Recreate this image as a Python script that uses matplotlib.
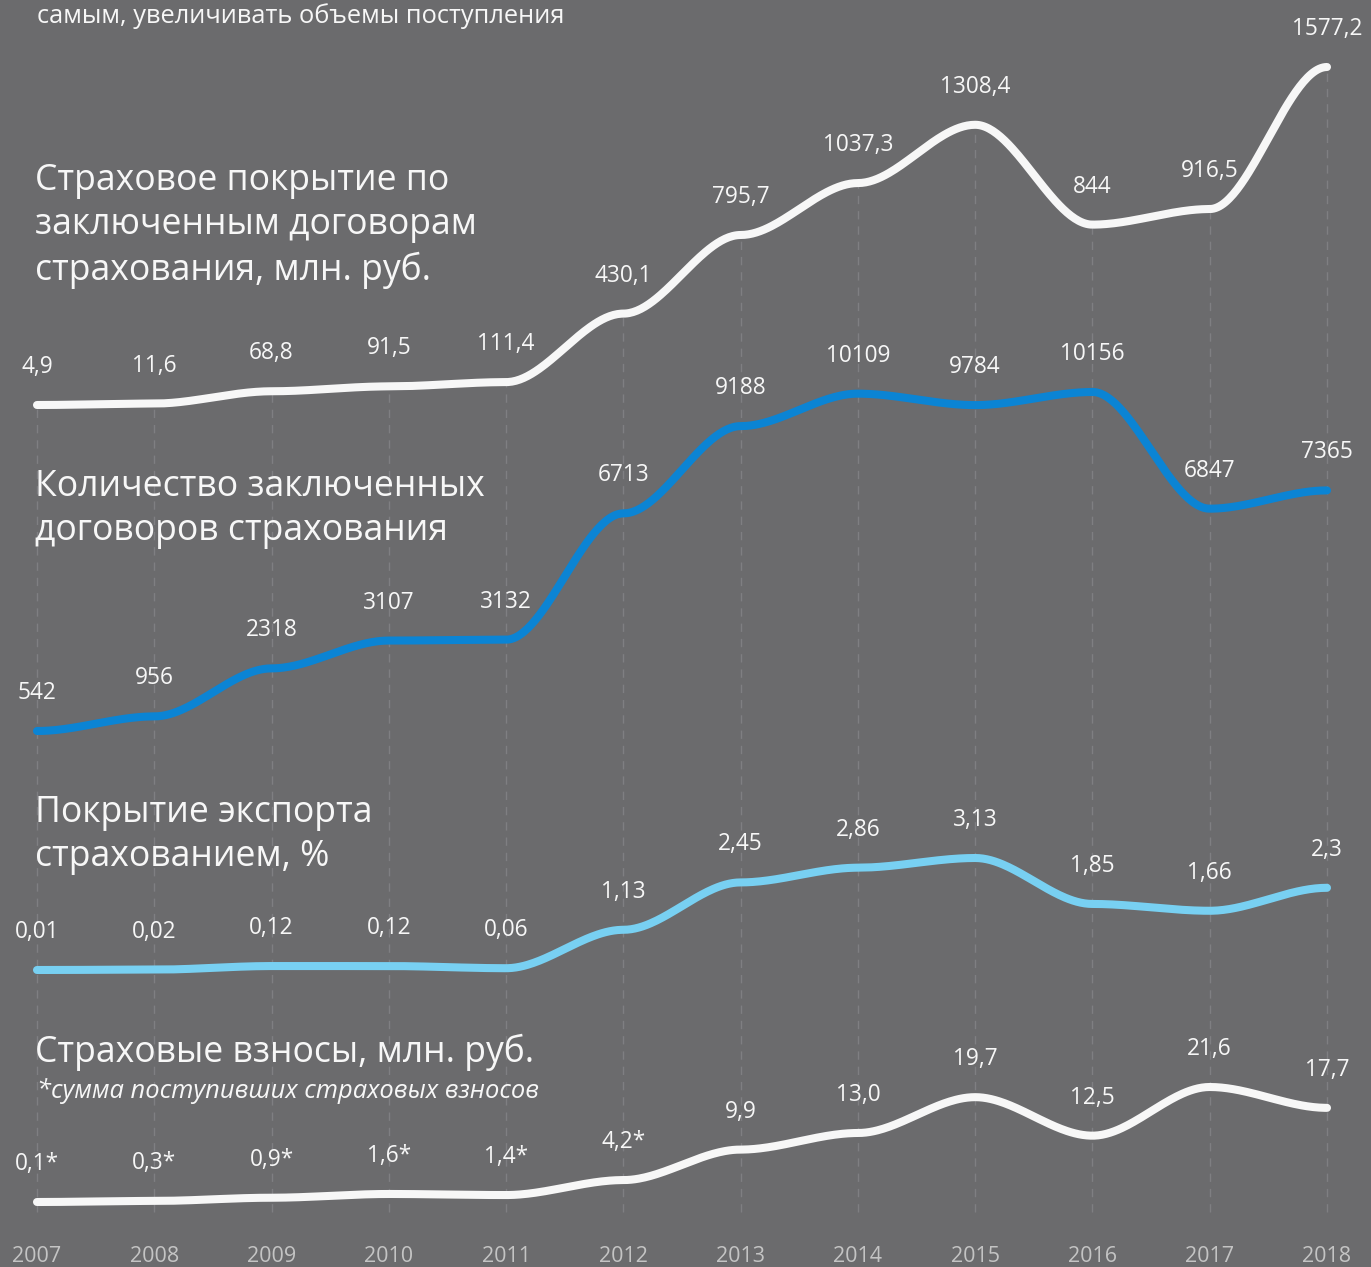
import matplotlib
matplotlib.use("Agg")
import matplotlib.pyplot as plt
import numpy as np

plt.rcParams["font.family"] = ["Open Sans", "DejaVu Sans"]

W, H = 1371, 1267
BG = "#6b6b6d"
GRID = "#7f7f82"
WHITE = "#f7f7f7"
BLUE = "#0b84d4"
LIGHT_BLUE = "#78d0f2"

years = np.arange(2007, 2019)

coverage = [4.9, 11.6, 68.8, 91.5, 111.4, 430.1, 795.7, 1037.3, 1308.4, 844, 916.5, 1577.2]
coverage_labels = ["4,9", "11,6", "68,8", "91,5", "111,4", "430,1", "795,7",
                   "1037,3", "1308,4", "844", "916,5", "1577,2"]

contracts = [542, 956, 2318, 3107, 3132, 6713, 9188, 10109, 9784, 10156, 6847, 7365]
contracts_labels = [str(v) for v in contracts]

export_share = [0.01, 0.02, 0.12, 0.12, 0.06, 1.13, 2.45, 2.86, 3.13, 1.85, 1.66, 2.3]
export_labels = ["0,01", "0,02", "0,12", "0,12", "0,06", "1,13", "2,45",
                 "2,86", "3,13", "1,85", "1,66", "2,3"]

premiums = [0.1, 0.3, 0.9, 1.6, 1.4, 4.2, 9.9, 13.0, 19.7, 12.5, 21.6, 17.7]
premiums_labels = ["0,1*", "0,3*", "0,9*", "1,6*", "1,4*", "4,2*", "9,9",
                   "13,0", "19,7", "12,5", "21,6", "17,7"]

# x mapping: 2007 sits at px 37, 2018 at px 1327
px_per_year = (1327 - 37) / 11
xlim = (2007 - 37 / px_per_year, 2018 + (W - 1327) / px_per_year)


def ylim_from(va, pa, vb, pb):
    """y-limits so value va lands at pixel row pa and vb at pb (rows from top)."""
    s = (vb - va) / (pa - pb)
    return va - s * (H - pa), va + s * pa


def smooth(x, y, n=60):
    xs, ys = [], []
    for i in range(len(x) - 1):
        t = np.linspace(0, 1, n, endpoint=False)
        e = t * t * (3 - 2 * t)
        xs.append(x[i] + (x[i + 1] - x[i]) * t)
        ys.append(y[i] + (y[i + 1] - y[i]) * e)
    xs.append([x[-1]])
    ys.append([y[-1]])
    return np.concatenate(xs), np.concatenate(ys)


fig = plt.figure(figsize=(W / 100, H / 100), dpi=100, facecolor=BG)

series = [
    (coverage, coverage_labels, WHITE, (4.9, 405, 1577.2, 67)),
    (contracts, contracts_labels, BLUE, (542, 731, 10156, 392)),
    (export_share, export_labels, LIGHT_BLUE, (0.01, 970, 3.13, 858)),
    (premiums, premiums_labels, WHITE, (0.1, 1202, 21.6, 1087)),
]

axes = []
for k, (vals, labels, color, anchor) in enumerate(series):
    ax = fig.add_axes([0, 0, 1, 1])
    ax.patch.set_alpha(0)
    ax.set_xlim(*xlim)
    lo, hi = ylim_from(*anchor)
    ax.set_ylim(lo, hi)
    ax.axis("off")
    if k == 0:
        # dashed drop lines from the top series down to the bottom
        bottom = lo + (hi - lo) * (1 - 1212 / H)
        ax.vlines(years, bottom, vals, colors=GRID, lw=1.0,
                  linestyles=(0, (6, 5)), zorder=1)
    xs, ys = smooth(years, vals)
    ax.plot(xs, ys, color=color, lw=5.8, solid_capstyle="round", zorder=3)
    for x, v, lab in zip(years, vals, labels):
        ax.annotate(lab, (x, v), xytext=(0, 38), textcoords="offset pixels",
                    ha="center", va="center", fontsize=16.3, color=WHITE,
                    zorder=4)
    axes.append(ax)

# year labels
for x in years:
    axes[0].annotate(str(x), (x, 0), xycoords=("data", "axes fraction"),
                     xytext=(0, H - 1256), textcoords="offset pixels",
                     ha="center", va="center", fontsize=15.5, color="#c4c4c4")


def ftext(xpx, ypx, s, **kw):
    fig.text(xpx / W, 1 - ypx / H, s, **kw)


title_kw = dict(fontsize=25.6, color=WHITE, ha="left", va="center", linespacing=1.32)
ftext(35, 226, "Страховое покрытие по\nзаключенным договорам\nстрахования, млн. руб.", **title_kw)
ftext(35, 509, "Количество заключенных\nдоговоров страхования", **title_kw)
ftext(35, 835, "Покрытие экспорта\nстрахованием, %", **title_kw)
ftext(35, 1052, "Страховые взносы, млн. руб.", **title_kw)
ftext(37, 1091, "*сумма поступивших страховых взносов", fontsize=18.4, style="italic",
      color=WHITE, ha="left", va="center")

# text cut off by the top edge of the source picture
ftext(37, 16, "самым, увеличивать объемы поступления", fontsize=18.3, color=WHITE,
      ha="left", va="center")
ftext(700, -13, "экспортеров и другими формами", fontsize=18, color=WHITE,
      ha="left", va="center")

fig.savefig("out.png", dpi=100, facecolor=BG)
